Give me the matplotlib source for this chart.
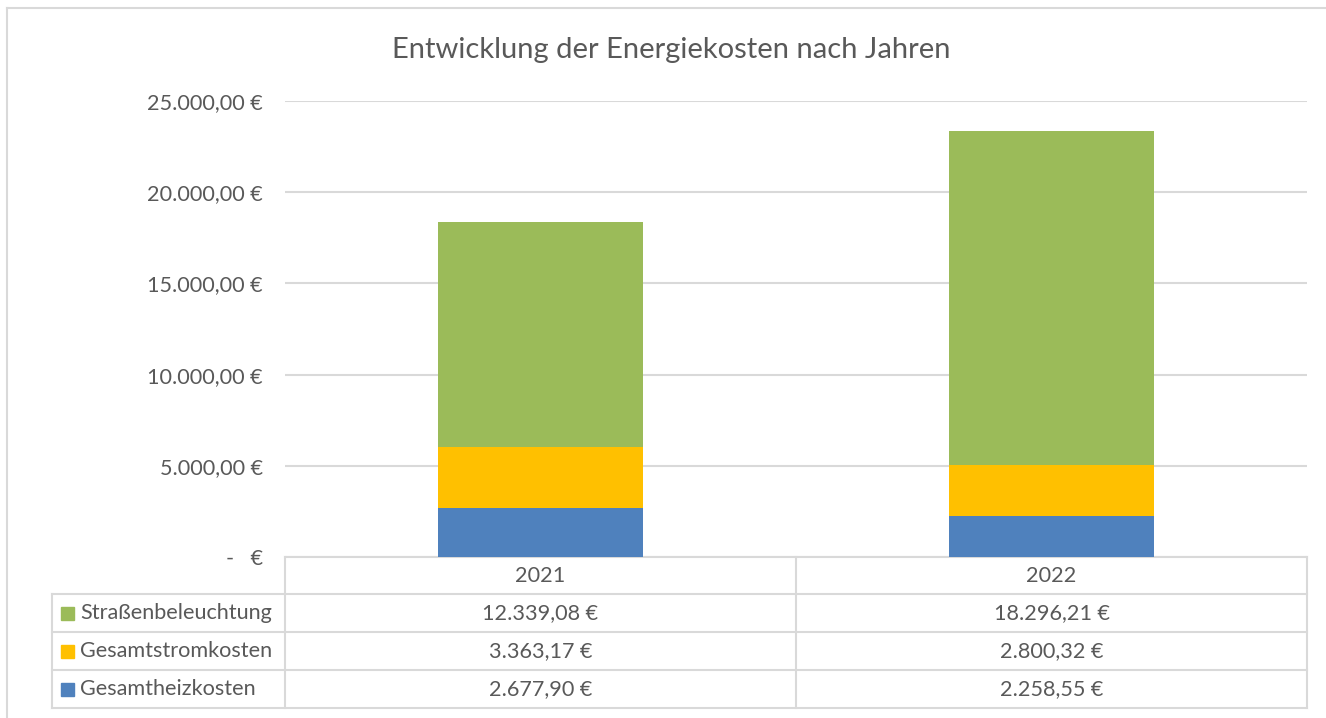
import matplotlib.pyplot as plt
from matplotlib.patches import Rectangle
from matplotlib.lines import Line2D
import numpy as np

# data
years = ['2021', '2022']
heizkosten = [2677.90, 2258.55]
stromkosten = [3363.17, 2800.32]
strassen = [12339.08, 18296.21]

series_names = ['Straßenbeleuchtung', 'Gesamtstromkosten', 'Gesamtheizkosten']
series_colors = ['#9BBB59', '#FFC000', '#4F81BD']

W, H = 1326, 718
txt_col = '#595959'
grid_col = '#D9D9D9'
plt.rcParams['font.family'] = ['Lato', 'DejaVu Sans']


def fx(x):
    return x / W


def fy(y):
    return 1 - y / H


def euro(v):
    s = f'{v:,.2f}'.replace(',', 'X').replace('.', ',').replace('X', '.')
    return s + ' €'


fig = plt.figure(figsize=(W / 100, H / 100), dpi=100)
ax = fig.add_axes([fx(285), fy(557), fx(1307) - fx(285), fy(101) - fy(557)])

x = np.arange(len(years))
bottom = np.zeros(len(years))
for vals, col in [(heizkosten, '#4F81BD'), (stromkosten, '#FFC000'), (strassen, '#9BBB59')]:
    ax.bar(x, vals, width=0.4, bottom=bottom, color=col, zorder=3)
    bottom += np.array(vals)

ax.set_xlim(-0.5, len(years) - 0.5)
ax.set_ylim(0, 25000)
ax.set_yticks(np.arange(0, 25001, 5000))
ax.set_yticklabels(['-   €' if t == 0 else euro(t) for t in np.arange(0, 25001, 5000)],
                   color=txt_col, fontsize=15.6)
ax.tick_params(axis='y', length=0, pad=16)
ax.set_xticks([])
ax.grid(axis='y', color=grid_col, linewidth=1.5, zorder=0)
for s in ['top', 'right', 'left']:
    ax.spines[s].set_visible(False)
ax.spines['bottom'].set_color(grid_col)
ax.spines['bottom'].set_linewidth(1.5)

fig.text(fx(671), fy(50), 'Entwicklung der Energiekosten nach Jahren',
         ha='center', va='center', fontsize=21, color=txt_col)

# chart border
fig.add_artist(Line2D([fx(7), 1], [fy(8), fy(8)], color=grid_col, lw=1.5))
fig.add_artist(Line2D([fx(7), fx(7)], [fy(8), 0], color=grid_col, lw=1.5))

# data table below the axis
rows_y = [557, 594, 632, 670, 708]
cols_x = [285, 796, 1307]
for y in rows_y[1:]:
    fig.add_artist(Line2D([fx(52), fx(1307)], [fy(y), fy(y)], color=grid_col, lw=1.5))
for cx in cols_x:
    fig.add_artist(Line2D([fx(cx), fx(cx)], [fy(557), fy(708)], color=grid_col, lw=1.5))
fig.add_artist(Line2D([fx(52), fx(52)], [fy(594), fy(708)], color=grid_col, lw=1.5))

for j, yr in enumerate(years):
    cx = (cols_x[j] + cols_x[j + 1]) / 2
    fig.text(fx(cx), fy((rows_y[0] + rows_y[1]) / 2), yr, ha='center', va='center',
             fontsize=15.6, color=txt_col)

table_vals = [strassen, stromkosten, heizkosten]
for i, (name, col, vals) in enumerate(zip(series_names, series_colors, table_vals)):
    cy = (rows_y[i + 1] + rows_y[i + 2]) / 2
    fig.add_artist(Rectangle((fx(61), fy(cy + 6.5)), fx(13), fy(0) - fy(13),
                             transform=fig.transFigure, color=col))
    fig.text(fx(80), fy(cy), name, ha='left', va='center', fontsize=15.6, color=txt_col)
    for j in range(len(years)):
        cx = (cols_x[j] + cols_x[j + 1]) / 2
        fig.text(fx(cx), fy(cy), euro(vals[j]), ha='center', va='center',
                 fontsize=15.6, color=txt_col)

fig.savefig('out.png', dpi=100)
